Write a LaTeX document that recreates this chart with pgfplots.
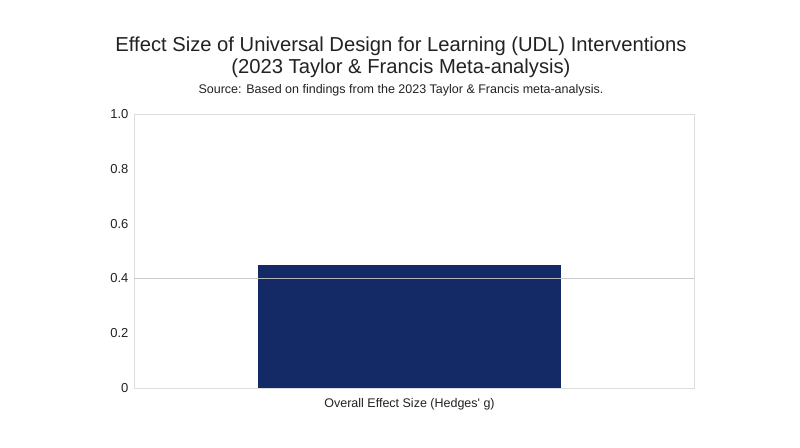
\documentclass[border=0pt]{standalone}
\usepackage{pgfplots}
\pgfplotsset{compat=1.18}
\usepackage{fontspec}
\setmainfont{Liberation Sans}
\definecolor{barblue}{HTML}{132A66}
\definecolor{frame}{HTML}{DDDDDD}
\definecolor{txt}{HTML}{222222}
\begin{document}
\begin{tikzpicture}[x=1pt,y=1pt]
\path[use as bounding box, fill=white] (0,0) rectangle (800,447);
\node[font=\fontsize{20.2}{22}\selectfont, text=txt] at (401,401) {Effect Size of Universal Design for Learning (UDL) Interventions};
\node[font=\fontsize{20.2}{22}\selectfont, text=txt] at (401,379) {(2023 Taylor \& Francis Meta-analysis)};
\node[font=\fontsize{12.5}{14}\selectfont, text=txt] at (401,357) {Source: Based on findings from the 2023 Taylor \& Francis meta-analysis.};
\begin{axis}[
  at={(134pt,59pt)}, anchor=south west,
  width=560pt, height=274pt, scale only axis,
  xmin=-0.492, xmax=0.508,
  ymin=0, ymax=1.0,
  ytick={0,0.2,0.4,0.6,0.8,1.0},
  yticklabels={0,0.2,0.4,0.6,0.8,1.0},
  xtick={0}, xticklabels={Overall Effect Size (Hedges\textquotesingle\ g)},
  major tick length=0pt,
  axis line style={frame},
  tick label style={font=\fontsize{13}{15}\selectfont, text=txt},
  xticklabel style={font=\fontsize{12.5}{14}\selectfont, yshift=-7pt},
  yticklabel style={xshift=-2pt},
  /pgf/number format/assume math mode=true,
  clip=false,
]
\addplot[ybar, bar width=303pt, fill=barblue, draw=none] coordinates {(0,0.45)};
\addplot[draw=gray!45, line width=0.8pt, opacity=0.9, mark=none] coordinates {(-0.492,0.4) (0.508,0.4)};
\end{axis}
\end{tikzpicture}
\end{document}
